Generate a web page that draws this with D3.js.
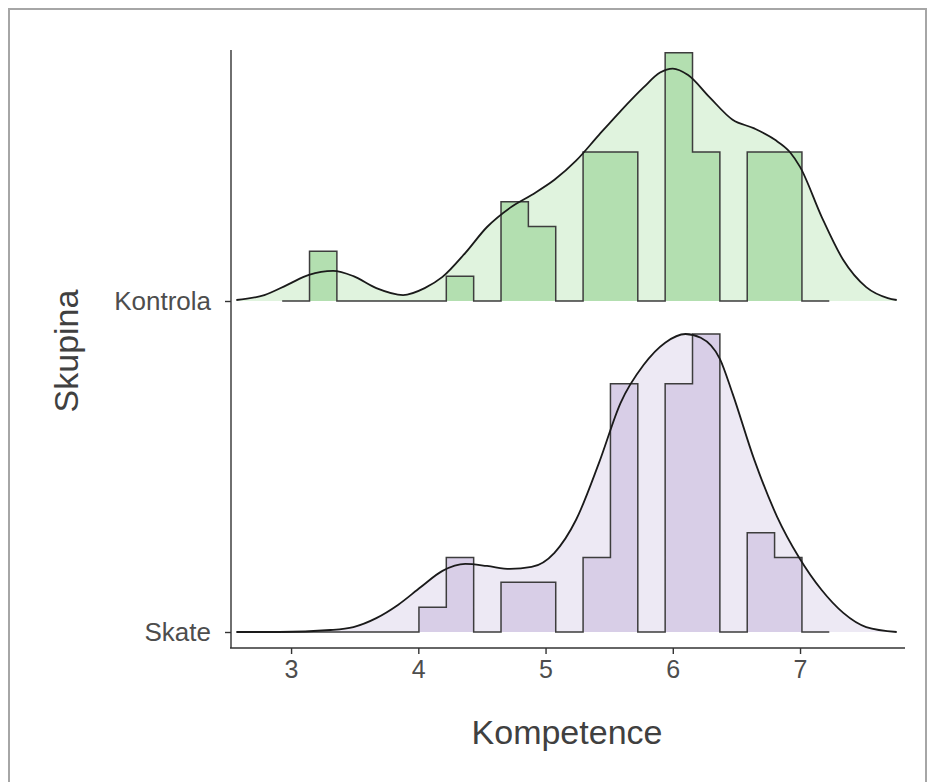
<!DOCTYPE html>
<html>
<head>
<meta charset="utf-8">
<script src="https://cdn.jsdelivr.net/npm/d3@7"></script>
<style>
  body { margin: 0; background: #fff; }
  svg { font-family: 'Liberation Sans', Arial, sans-serif; }
</style>
</head>
<body>
<div id="chart"></div>
<script>
// ridgeline histograms + density, two groups

const groups = ['Kontrola', 'Skate']
const xTicks = [3, 4, 5, 6, 7]

// shared bins (first and last bin are the empty pad bins)
const binStart = 2.93
const binWidth = 0.215
const kontrolaCounts = [0, 2, 0, 0, 0, 0, 1, 0, 4, 3, 0, 6, 6, 0, 10, 6, 0, 6, 6, 0]
const skateCounts = [0, 0, 0, 0, 0, 1, 3, 0, 2, 2, 0, 3, 10, 0, 10, 12, 0, 4, 3, 0]

// density curves, in the same height units as the counts
const kontrolaDensity = [
  [2.57, 0.04], [2.79, 0.24], [2.97, 0.65], [3.14, 1.05], [3.33, 1.21], [3.49, 1.0],
  [3.67, 0.52], [3.88, 0.24], [4.05, 0.52], [4.19, 0.97], [4.37, 1.94], [4.54, 2.98],
  [4.72, 3.75], [4.89, 4.27], [5.07, 4.88], [5.24, 5.65], [5.42, 6.69], [5.59, 7.65],
  [5.77, 8.6], [5.9, 9.2], [6.0, 9.36], [6.12, 9.1], [6.29, 8.2], [6.47, 7.3],
  [6.64, 6.95], [6.8, 6.5], [6.92, 6.0], [7.0, 5.4], [7.17, 3.39], [7.34, 1.65],
  [7.52, 0.56], [7.69, 0.12], [7.76, 0.04]
]
const skateDensity = [
  [2.57, 0], [2.91, 0], [3.31, 0.08], [3.49, 0.2], [3.67, 0.56], [3.84, 1.09],
  [4.02, 1.81], [4.19, 2.46], [4.37, 2.74], [4.54, 2.66], [4.72, 2.54], [4.89, 2.62],
  [5.07, 3.19], [5.24, 4.52], [5.42, 6.81], [5.59, 9.23], [5.77, 10.75], [5.94, 11.65],
  [6.1, 12.0], [6.22, 11.85], [6.37, 11.0], [6.47, 9.6], [6.64, 6.94], [6.82, 4.64],
  [6.99, 3.02], [7.17, 1.69], [7.34, 0.77], [7.52, 0.2], [7.76, 0]
]

const fills = {
  Kontrola: { hist: '#b3dfb0', dens: '#e0f3de' },
  Skate: { hist: '#d8cee7', dens: '#ede9f4' }
}

const width = 931
const height = 782

const svg = d3.select('#chart')
  .append('svg')
  .attr('width', width)
  .attr('height', height)

// frame of the screenshot
svg.append('rect')
  .attr('x', 9).attr('y', 9)
  .attr('width', 917).attr('height', 790)
  .attr('fill', 'none')
  .attr('stroke', '#a6a6a6')
  .attr('stroke-width', 2)

const x = d3.scaleLinear().domain([2.52, 7.825]).range([230, 905])
const yBase = d3.scalePoint().domain(['Skate', 'Kontrola']).range([632, 301])
const h = d3.scaleLinear().domain([0, 12]).range([0, 298])

const data = {
  Kontrola: { counts: kontrolaCounts, density: kontrolaDensity },
  Skate: { counts: skateCounts, density: skateDensity }
}

groups.forEach(function (g) {
  const base = yBase(g)
  const counts = data[g].counts
  const steps = counts.map(function (c, i) {
    return { x: binStart + i * binWidth, c: c }
  })
  steps.push({ x: binStart + counts.length * binWidth, c: 0 })

  const dens = data[g].density
  const densArea = d3.area()
    .x(function (d) { return x(d[0]) })
    .y0(base)
    .y1(function (d) { return base - h(d[1]) })
    .curve(d3.curveMonotoneX)

  svg.append('path')
    .datum(dens)
    .attr('d', densArea)
    .attr('fill', fills[g].dens)

  const histArea = d3.area()
    .x(function (d) { return x(d.x) })
    .y0(base)
    .y1(function (d) { return base - h(d.c) })
    .curve(d3.curveStepAfter)
  const histLine = d3.line()
    .x(function (d) { return x(d.x) })
    .y(function (d) { return base - h(d.c) })
    .curve(d3.curveStepAfter)

  svg.append('path')
    .datum(steps)
    .attr('d', histArea)
    .attr('fill', fills[g].hist)
  svg.append('path')
    .datum(steps)
    .attr('d', histLine)
    .attr('fill', 'none')
    .attr('stroke', '#3d3d3d')
    .attr('stroke-width', 1.5)

  svg.append('path')
    .datum(dens)
    .attr('d', d3.line()
      .x(function (d) { return x(d[0]) })
      .y(function (d) { return base - h(d[1]) })
      .curve(d3.curveMonotoneX))
    .attr('fill', 'none')
    .attr('stroke', '#1a1a1a')
    .attr('stroke-width', 1.8)
})

// axes
const xAxis = svg.append('g')
  .attr('transform', 'translate(0,648)')
  .call(d3.axisBottom(x).tickValues(xTicks).tickFormat(d3.format('d'))
    .tickSize(6).tickPadding(6).tickSizeOuter(0))
xAxis.select('.domain').attr('stroke', '#333').attr('stroke-width', 1.4)
  .attr('d', 'M230,0H905')
xAxis.selectAll('.tick line').attr('stroke', '#333').attr('stroke-width', 1.4)
xAxis.selectAll('.tick text')
  .attr('font-size', 25)
  .attr('fill', '#4d4d4d')
  .attr('font-family', "'Liberation Sans', Arial, sans-serif")

const yAxis = svg.append('g')
  .attr('transform', 'translate(231,0)')
  .call(d3.axisLeft(yBase).tickSize(6).tickPadding(14).tickSizeOuter(0))
yAxis.select('.domain').attr('stroke', '#333').attr('stroke-width', 1.4)
  .attr('d', 'M0,50V648')
yAxis.selectAll('.tick line').attr('stroke', '#333').attr('stroke-width', 1.4)
yAxis.selectAll('.tick text')
  .attr('font-size', 26)
  .attr('fill', '#4d4d4d')
  .attr('font-family', "'Liberation Sans', Arial, sans-serif")

svg.append('text')
  .attr('x', 567)
  .attr('y', 744)
  .attr('text-anchor', 'middle')
  .attr('font-size', 34)
  .attr('fill', '#404040')
  .text('Kompetence')

svg.append('text')
  .attr('transform', 'translate(78,351) rotate(-90)')
  .attr('text-anchor', 'middle')
  .attr('font-size', 34)
  .attr('fill', '#404040')
  .text('Skupina')
</script>
</body>
</html>
